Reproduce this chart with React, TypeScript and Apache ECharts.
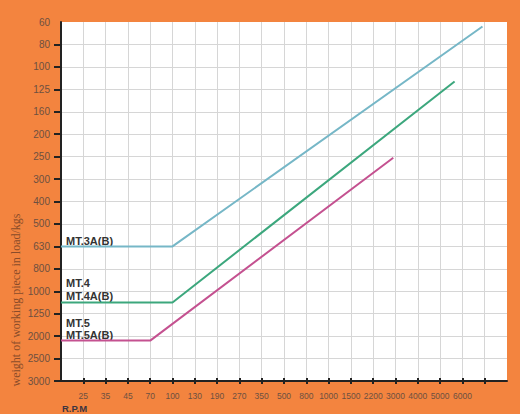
import React, { useEffect, useRef } from 'react';
import * as echarts from 'echarts';

// X axis: R.P.M categories (index positions along the axis)
const rpmLabels = ['', '25', '35', '45', '70', '100', '130', '190', '270', '350', '500', '800', '1000', '1500', '2200', '3000', '4000', '5000', '6000', '', ''];
// Y axis: load (kgs) categories, top to bottom
const loadLabels = ['60', '80', '100', '125', '160', '200', '250', '300', '400', '500', '630', '800', '1000', '1250', '2000', '2500', '3000'];

// Series in axis-index coordinates [rpm index, load index]
const mt3Line = [[0, 10.0], [5, 10.0], [18.9, 0.2]];
const mt4Line = [[0, 12.5], [5, 12.5], [17.65, 2.65]];
const mt5Line = [[0, 14.2], [4, 14.2], [14.9, 6.05]];

const seriesNames = ['MT.3A(B)', 'MT.4\nMT.4A(B)', 'MT.5\nMT.5A(B)'];
const seriesData = [mt3Line, mt4Line, mt5Line];
const seriesColors = ['#76b7c7', '#3ca77d', '#c45190'];

const ORANGE = '#F3843F';

function hasNarrow(): boolean {
  try {
    const c = document.createElement('canvas').getContext('2d');
    if (!c) return false;
    c.font = '20px monospace';
    const a = c.measureText('00000000').width;
    c.font = '20px "Liberation Sans Narrow", monospace';
    const b = c.measureText('00000000').width;
    return Math.abs(a - b) > 0.5;
  } catch (e) {
    return false;
  }
}

export default function App() {
  const ref = useRef<HTMLDivElement>(null);
  useEffect(() => {
    if (!ref.current) return;
    const chart = echarts.init(ref.current, undefined, { renderer: 'svg' });
    const narrow = hasNarrow();
    const xFont = narrow ? '"Liberation Sans Narrow"' : 'Liberation Sans';
    const xSize = narrow ? 10 : 8.5;
    const xTickVals = rpmLabels.map((_, i) => i).filter((i) => i >= 1 && i <= 19);
    const yTickVals = loadLabels.map((_, i) => i).filter((i) => i >= 1);
    const labelColor = '#6d5040';
    chart.setOption({
      animation: false,
      backgroundColor: ORANGE,
      grid: {
        left: 61, right: 13, top: 22, bottom: 33,
        show: true, backgroundColor: '#ffffff', borderWidth: 0,
      },
      xAxis: [
        {
          type: 'value', min: 0, max: rpmLabels.length - 1, interval: 1, position: 'bottom',
          axisLine: { show: true, onZero: false, lineStyle: { color: '#222', width: 2 } },
          axisTick: { show: true, customValues: xTickVals, length: 3, lineStyle: { color: '#222', width: 2 } },
          axisLabel: {
            customValues: xTickVals,
            formatter: (v: number) => rpmLabels[Math.round(v)] ?? '',
            margin: 10, fontSize: xSize, color: labelColor, fontFamily: xFont,
            hideOverlap: false,
          },
          splitLine: { show: true, lineStyle: { color: '#d6d6d6', width: 1 } },
        },
        {
          type: 'value', min: 0, max: rpmLabels.length - 1, interval: 1, position: 'bottom',
          axisLine: { show: false, onZero: false },
          axisTick: { show: true, inside: true, customValues: xTickVals, length: 3, lineStyle: { color: '#222', width: 2 } },
          axisLabel: { show: false },
          splitLine: { show: false },
        },
      ],
      yAxis: {
        type: 'value', min: 0, max: loadLabels.length - 1, interval: 1, inverse: true,
        axisLine: { show: true, onZero: false, lineStyle: { color: '#222', width: 2 } },
        axisTick: { show: true, customValues: yTickVals, length: 7, lineStyle: { color: '#222', width: 2 } },
        axisLabel: {
          formatter: (v: number) => loadLabels[Math.round(v)] ?? '',
          margin: 11, fontSize: 10, color: labelColor, fontFamily: 'Liberation Sans',
        },
        splitLine: { show: true, lineStyle: { color: '#d6d6d6', width: 1 } },
      },
      series: seriesData.map((d, i) => ({
        type: 'line',
        name: seriesNames[i],
        data: d,
        showSymbol: false,
        lineStyle: { color: seriesColors[i], width: 2 },
        itemStyle: { color: seriesColors[i] },
      })),
    });

    const offsets = [-5, -12.5, -11.5];
    const lineHeights = [13, 13, 12];
    const labelGraphics = seriesData.map((d, i) => {
      const p = chart.convertToPixel({ gridIndex: 0 }, d[0]) as number[];
      return {
        type: 'text',
        x: p[0] + 5,
        y: p[1] + offsets[i],
        style: {
          text: seriesNames[i],
          font: 'bold 11px "Liberation Sans"',
          fill: '#333333',
          lineHeight: lineHeights[i],
          align: 'left',
          verticalAlign: 'middle',
        },
      };
    });

    chart.setOption({
      graphic: [
        ...labelGraphics,
        {
          type: 'text',
          x: 16, y: 300, rotation: Math.PI / 2,
          style: {
            text: 'weight of working piece in load/kgs',
            font: '12px "Liberation Serif"',
            fill: '#8a4c2a',
            align: 'center', verticalAlign: 'middle',
          },
        },
        {
          type: 'text',
          x: 62, y: 408,
          style: {
            text: 'R.P.M',
            font: 'bold 9.5px "Liberation Sans"',
            fill: '#3d3540',
            align: 'left', verticalAlign: 'middle',
          },
        },
      ],
    });
    return () => chart.dispose();
  }, []);
  return (
    <div style={{ position: 'fixed', left: 0, top: 0, width: 520, height: 414, background: ORANGE }}>
      <div ref={ref} style={{ width: 520, height: 414 }} />
    </div>
  );
}
